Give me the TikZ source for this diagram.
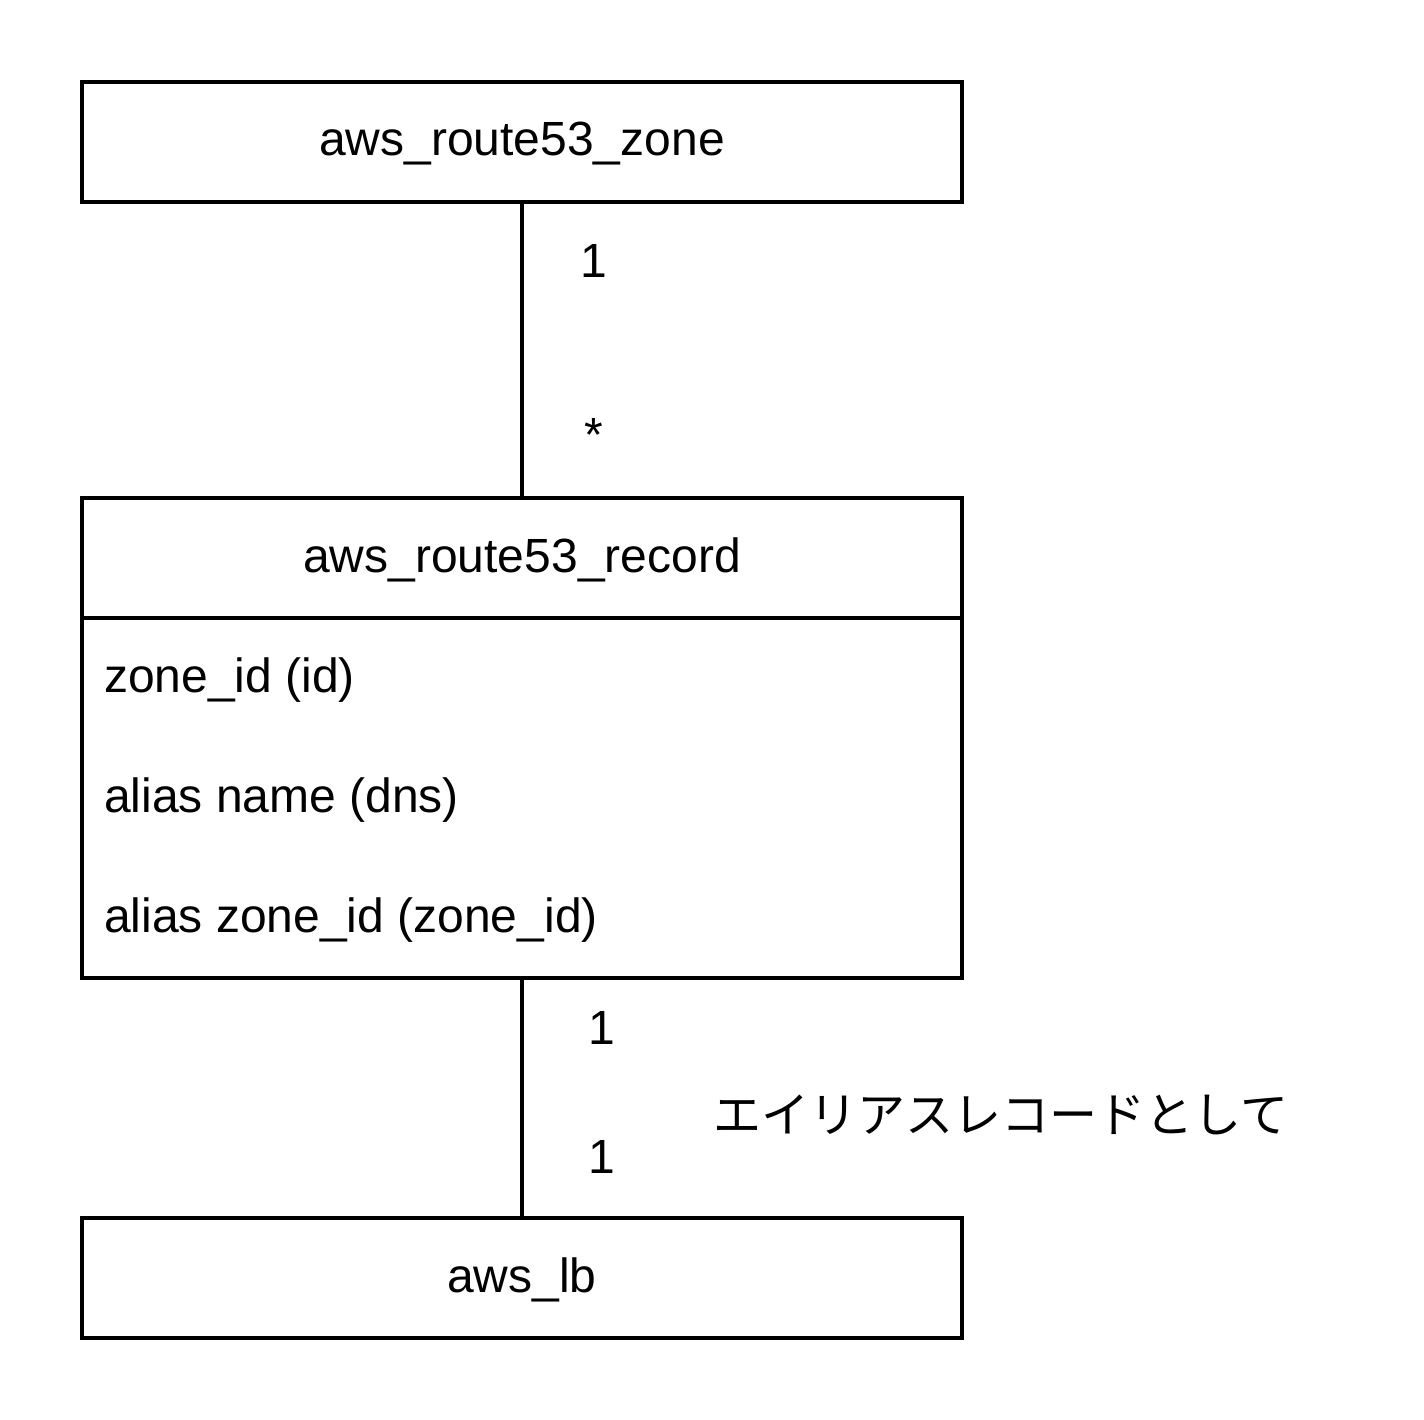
\documentclass[tikz,border=0pt]{standalone}
\usepackage{fontspec}
\setmainfont{Liberation Sans}
\newfontfamily\jpfont{Noto Sans CJK JP}
\tikzset{
  entity/.style={draw, line width=3.5pt, minimum width=880pt, minimum height=120pt, inner sep=0pt, text height=38pt, text depth=10pt, font=\fontsize{48}{58}\selectfont},
  attrbox/.style={draw, line width=3.5pt, minimum width=880pt, minimum height=360pt, inner sep=0pt},
  attr/.style={anchor=west, inner sep=0pt, font=\fontsize{48}{58}\selectfont},
  mult/.style={anchor=base, inner sep=0pt, font=\fontsize{48}{58}\selectfont},
}
\begin{document}
\begin{tikzpicture}[x=1pt,y=-1pt]
 \useasboundingbox (0,0) rectangle (1424,1420);
 \node[entity] (zone) at (522,142) {aws\_route53\_zone};
 \node[entity] (record) at (522,558) {aws\_route53\_record};
 \node[attrbox] (attrs) at (522,798) {};
 \node[entity] (lb) at (522,1278) {aws\_lb};

 \node[attr] (a1) at (104,680) {zone\_id (id)};
 \node[attr] (a2) at (104,800) {alias name (dns)};
 \node[attr] (a3) at (104,920) {alias zone\_id (zone\_id)};

 \node[mult] (m1) at (594,278) {1};
 \node[mult] (m2) at (594,451) {*};
 \node[mult] (m3) at (602,1044) {1};
 \node[mult] (m4) at (602,1173) {1};
 \node[inner sep=0pt, font=\jpfont\fontsize{48}{58}\selectfont] (alias) at (1001,1115) {エイリアスレコードとして};

 \path [-, line width=3.5pt] (zone) edge node {} (record);
 \path [-, line width=3.5pt] (attrs) edge node {} (lb);
\end{tikzpicture}
\end{document}
